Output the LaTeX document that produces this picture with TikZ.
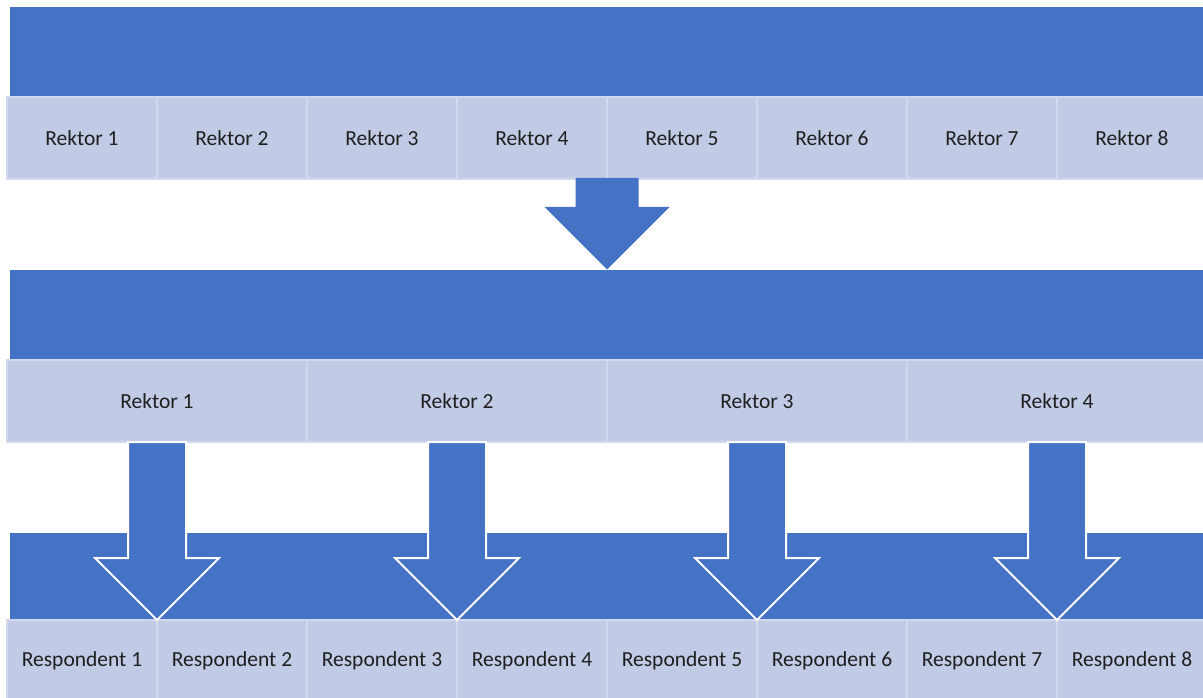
\documentclass[tikz,border=0pt]{standalone}
\usepackage{fontspec}
\setmainfont{Carlito}
\definecolor{blueA}{HTML}{4472C4}
\definecolor{cellfill}{HTML}{C2CBE5}
\definecolor{cellline}{HTML}{D3D9ED}
\definecolor{txt}{HTML}{1F1F1F}
\tikzset{
  banner/.style={fill=blueA, inner sep=0pt, minimum height=90pt, minimum width=1193pt},
  cell/.style={fill=cellfill, draw=cellline, line width=1.5pt, inner sep=0pt, outer sep=0pt,
    minimum height=82pt, text=txt, font=\fontsize{21.5}{26}\selectfont},
  barrow/.style={fill=blueA, draw=white, line width=2pt, line join=miter},
  sarrow/.style={fill=blueA, draw=none}
}
\begin{document}
\begin{tikzpicture}[x=1pt,y=-1pt]
\useasboundingbox (0,0) rectangle (1203,698);
% banners
\node[banner] (b1) at (606.5,52) {};
\node[banner] (b2) at (606.5,315) {};
\node[banner, minimum height=87pt] (b3) at (606.5,576.5) {};
% row 1
\foreach \i in {1,...,8}{
  \node[cell, minimum width=150pt] (r1c\i) at ({7+75+150*(\i-1)},138) {Rektor \i};
}
% row 2
\foreach \i in {1,...,4}{
  \node[cell, minimum width=300pt] (r2c\i) at ({7+150+300*(\i-1)},401) {Rektor \i};
}
% row 3
\foreach \i in {1,...,8}{
  \node[cell, minimum width=150pt, minimum height=82pt] (r3c\i) at ({7+75+150*(\i-1)},661) {Respondent \i};
}
% big arrow between row 1 and banner 2
\coordinate (t1) at (r1c4.south east);
\fill[sarrow] (t1) ++(-31.5,-1) -- ++(63,0) -- ++(0,29) -- ++(31,0) -- ++(-62.5,62.5) -- ++(-62.5,-62.5) -- ++(31,0) -- cycle;
% four arrows
\foreach \i in {1,...,4}{
  \draw[barrow] (r2c\i.south) ++(-29,0) -- ++(58,0) -- ++(0,116) -- ++(33,0) -- ++(-62,62) -- ++(-62,-62) -- ++(33,0) -- cycle;
}
\end{tikzpicture}
\end{document}
